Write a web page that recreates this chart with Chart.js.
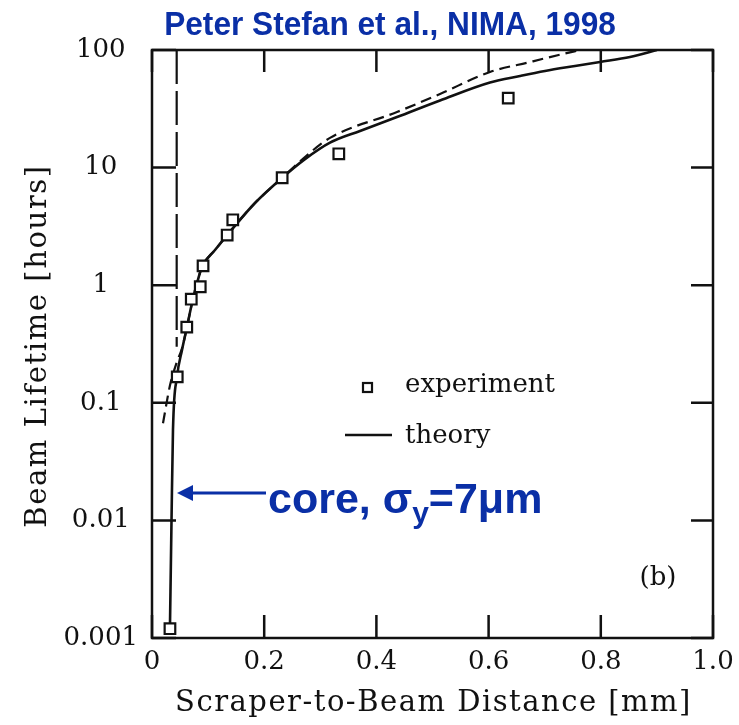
<!DOCTYPE html>
<html>
<head>
<meta charset="utf-8">
<script src="https://cdn.jsdelivr.net/npm/chart.js@4.4.1/dist/chart.umd.min.js"></script>
<style>
  html, body { margin: 0; padding: 0; background: #fff; }
  #wrap { width: 739px; height: 725px; }
</style>
</head>
<body>
<div id="wrap"><canvas id="lifetimeChart" width="739" height="725"></canvas></div>
<script>
const xTicks = [0, 0.2, 0.4, 0.6, 0.8, 1.0];
const xTickLabels = ['0', '0.2', '0.4', '0.6', '0.8', '1.0'];
const yTicks = [0.001, 0.01, 0.1, 1, 10, 100];
const yTickLabels = ['0.001', '0.01', '0.1', '1', '10', '100'];

// measured beam lifetime vs scraper position
const expDistance = [0.032, 0.045, 0.062, 0.070, 0.086, 0.091, 0.134, 0.144, 0.232, 0.333, 0.635];
const expLifetime = [0.0012, 0.166, 0.44, 0.76, 0.97, 1.46, 2.67, 3.6, 8.2, 13.1, 39];

// theory curve (solid)
const theoryDistance = [0.032, 0.0348, 0.0374, 0.0446, 0.0535, 0.0624, 0.0713, 0.0802, 0.0891, 0.1123, 0.1444, 0.1836, 0.2317, 0.2727, 0.3173, 0.3708, 0.4367, 0.5134, 0.6025, 0.656, 0.7005, 0.754, 0.7986, 0.852, 0.9];
const theoryLifetime = [0.00122, 0.0101, 0.0587, 0.166, 0.281, 0.442, 0.706, 1.04, 1.43, 1.99, 3.06, 5.0, 8.16, 11.8, 16.3, 20.5, 26.9, 37.2, 52.9, 60.1, 66.3, 73.1, 79.1, 87.2, 100];

// dashed curve
const dashedDistance = [0.0196, 0.032, 0.044, 0.0535, 0.0624, 0.0713, 0.0802, 0.0891, 0.1123, 0.1444, 0.1836, 0.2317, 0.2727, 0.3173, 0.4367, 0.5134, 0.6025, 0.6738, 0.7326, 0.763];
const dashedLifetime = [0.067, 0.14, 0.22, 0.29, 0.442, 0.706, 1.04, 1.43, 1.99, 3.06, 5.0, 8.16, 12.3, 17.9, 29.7, 42.3, 65, 79, 92.5, 100];

// vertical long-dash line
const edgeDistance = [0.044, 0.044];
const edgeLifetime = [100, 0.3];

const blue = '#0a2fa6';
const serif = '"DejaVu Serif", serif';
const sans = '"Liberation Sans", Arial, sans-serif';

function pts(xs, ys) {
    return xs.map((x, i) => ({ x: x, y: ys[i] }));
}

// frame with inward ticks on all four sides, plus the text overlays
const framePlugin = {
    id: 'frame',
    afterDatasetsDraw(chart) {
        const { ctx, chartArea: a, scales } = chart;
        ctx.save();
        ctx.strokeStyle = '#111';
        ctx.lineWidth = 2.5;
        ctx.strokeRect(a.left, a.top, a.right - a.left, a.bottom - a.top);
        ctx.beginPath();
        scales.x.ticks.forEach(t => {
            const px = scales.x.getPixelForValue(t.value);
            ctx.moveTo(px, a.bottom); ctx.lineTo(px, a.bottom - 23);
            ctx.moveTo(px, a.top); ctx.lineTo(px, a.top + 22);
        });
        scales.y.ticks.forEach(t => {
            const py = scales.y.getPixelForValue(t.value);
            ctx.moveTo(a.left, py); ctx.lineTo(a.left + 24, py);
            ctx.moveTo(a.right, py); ctx.lineTo(a.right - 22, py);
        });
        ctx.stroke();
        ctx.restore();
    },
    afterDraw(chart) {
        const { ctx, chartArea: a } = chart;
        ctx.save();

        // heading, a little condensed
        ctx.save();
        ctx.fillStyle = blue;
        ctx.font = 'bold 34px ' + sans;
        ctx.textAlign = 'center';
        ctx.textBaseline = 'alphabetic';
        ctx.translate(390, 35);
        ctx.scale(0.93, 1);
        ctx.fillText('Peter Stefan et al., NIMA, 1998', 0, 0);
        ctx.restore();

        // axis titles
        ctx.fillStyle = '#111';
        ctx.font = '29px ' + serif;
        ctx.textAlign = 'center';
        ctx.textBaseline = 'middle';
        ctx.letterSpacing = '1.5px';
        ctx.fillText('Scraper-to-Beam Distance [mm]', (a.left + a.right) / 2 + 1, 703);
        ctx.save();
        ctx.translate(38, (a.top + a.bottom) / 2 + 2);
        ctx.rotate(-Math.PI / 2);
        ctx.letterSpacing = '1.6px';
        ctx.fillText('Beam Lifetime [hours]', 0, 0);
        ctx.restore();
        ctx.letterSpacing = '0px';

        // legend
        ctx.lineWidth = 2.2;
        ctx.strokeStyle = '#111';
        ctx.strokeRect(363, 383, 9, 9);
        ctx.lineWidth = 2.5;
        ctx.beginPath();
        ctx.moveTo(345, 435); ctx.lineTo(392, 435);
        ctx.stroke();
        ctx.font = '26px ' + serif;
        ctx.textAlign = 'left';
        ctx.fillText('experiment', 405, 385);
        ctx.fillText('theory', 405, 436);
        ctx.textAlign = 'center';
        ctx.fillText('(b)', 658, 578);

        // core annotation with arrow
        ctx.strokeStyle = blue;
        ctx.fillStyle = blue;
        ctx.lineWidth = 3;
        ctx.beginPath();
        ctx.moveTo(266, 493); ctx.lineTo(190, 493);
        ctx.stroke();
        ctx.beginPath();
        ctx.moveTo(177, 493); ctx.lineTo(193, 485); ctx.lineTo(193, 501);
        ctx.closePath();
        ctx.fill();

        ctx.textAlign = 'left';
        ctx.textBaseline = 'alphabetic';
        const big = 'bold 43px ' + sans;
        const small = 'bold 30px ' + sans;
        let x = 268;
        ctx.font = big;
        ctx.fillText('core, σ', x, 513);
        x += ctx.measureText('core, σ').width;
        ctx.font = small;
        ctx.fillText('y', x, 523);
        x += ctx.measureText('y').width;
        ctx.font = big;
        ctx.fillText('=7μm', x, 513);

        ctx.restore();
    }
};

const ctx = document.getElementById('lifetimeChart').getContext('2d');
new Chart(ctx, {
    type: 'scatter',
    data: {
        datasets: [
            {
                label: 'experiment',
                data: pts(expDistance, expLifetime),
                showLine: false,
                pointStyle: 'rect',
                pointRadius: 7.5,
                pointBorderWidth: 2.2,
                pointBorderColor: '#111',
                pointBackgroundColor: '#fff',
                order: 0
            },
            {
                label: 'theory',
                data: pts(theoryDistance, theoryLifetime),
                showLine: true,
                borderColor: '#111',
                borderWidth: 2.6,
                pointRadius: 0,
                cubicInterpolationMode: 'monotone',
                order: 1
            },
            {
                label: 'dashed',
                data: pts(dashedDistance, dashedLifetime),
                showLine: true,
                borderColor: '#111',
                borderWidth: 2.2,
                borderDash: [11, 6],
                pointRadius: 0,
                cubicInterpolationMode: 'monotone',
                order: 2
            },
            {
                label: 'edge',
                data: pts(edgeDistance, edgeLifetime),
                showLine: true,
                borderColor: '#111',
                borderWidth: 2.2,
                borderDash: [34, 7],
                pointRadius: 0,
                order: 3
            }
        ]
    },
    options: {
        responsive: false,
        animation: false,
        layout: { padding: { left: 0, top: 50, right: 26, bottom: 0 } },
        plugins: {
            legend: { display: false },
            tooltip: { enabled: false },
            title: { display: false }
        },
        scales: {
            x: {
                type: 'linear',
                min: 0,
                max: 1,
                grid: { display: false, drawTicks: false },
                border: { display: false },
                afterBuildTicks: s => { s.ticks = xTicks.map(v => ({ value: v })); },
                afterFit: s => {
                    s.height = 87;
                    // edge labels fit inside the page margins already
                    s.paddingLeft = 0;
                    s.paddingRight = 0;
                },
                ticks: {
                    padding: 9,
                    maxRotation: 0,
                    color: '#111',
                    font: { family: serif, size: 26 },
                    callback: (v, i) => xTickLabels[i]
                }
            },
            y: {
                type: 'logarithmic',
                min: 0.001,
                max: 100,
                grid: { display: false, drawTicks: false },
                border: { display: false },
                afterBuildTicks: s => { s.ticks = yTicks.map(v => ({ value: v })); },
                afterFit: s => {
                    s.width = 152;
                    s.paddingTop = 0;
                    s.paddingBottom = 0;
                },
                ticks: {
                    padding: 14,
                    crossAlign: 'center',
                    color: '#111',
                    font: { family: serif, size: 26 },
                    callback: (v, i) => yTickLabels[i]
                }
            }
        }
    },
    plugins: [framePlugin]
});
</script>
</body>
</html>
